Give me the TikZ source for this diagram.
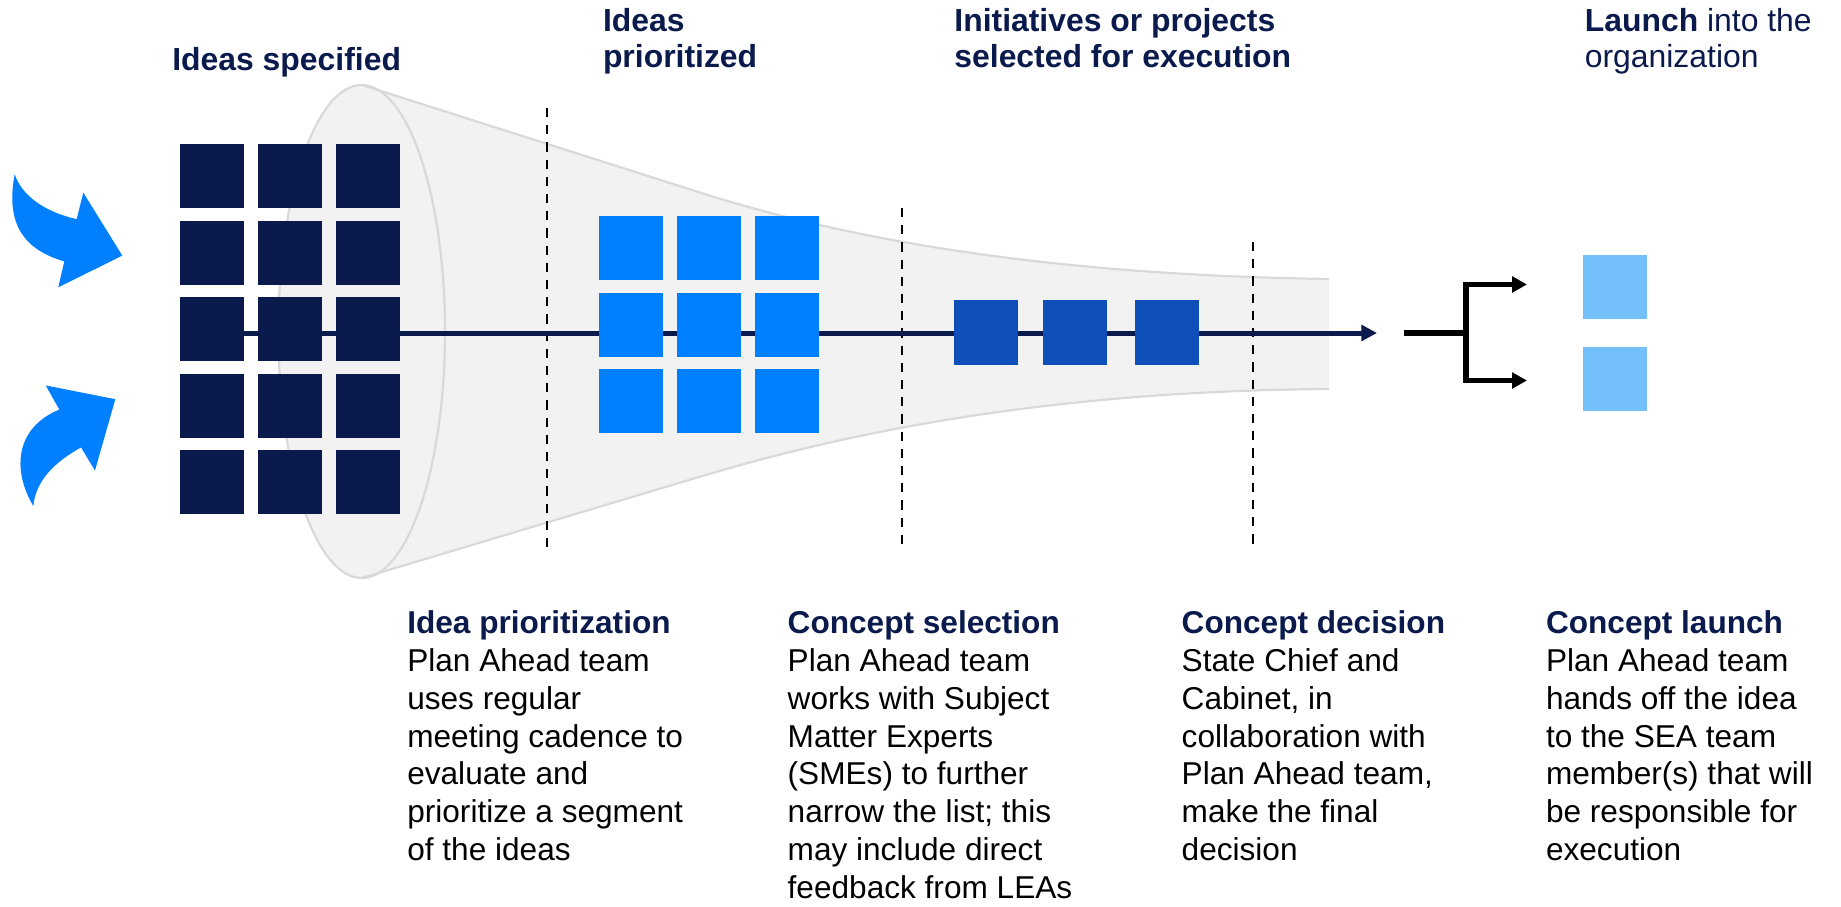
\documentclass[tikz,border=0pt]{standalone}
\usepackage{fontspec}
\setmainfont{Liberation Sans}
\usetikzlibrary{arrows.meta}
\definecolor{navy}{HTML}{0A1A4C}
\definecolor{brightblue}{HTML}{0080FF}
\definecolor{midblue}{HTML}{0F4FB9}
\definecolor{lightblue}{HTML}{73C0FA}
\definecolor{funnelfill}{HTML}{F2F2F2}
\definecolor{funneledge}{HTML}{D9D9D9}
\newcommand{\myBody}{\fontsize{15.8}{18.95}\selectfont}
\newcommand{\myHead}{\fontsize{15.95}{18}\selectfont}
\newcommand{\nodepth}[1]{\raisebox{0pt}[\height][0pt]{#1}}
\begin{document}
\begin{tikzpicture}[x=0.5pt,y=-0.5pt,
  sq/.style={minimum width=32pt,minimum height=32pt,inner sep=0pt,outer sep=0pt,draw=none,fill=#1},
  lbl/.style={anchor=base west,inner sep=0pt,outer sep=0pt},
  divider/.style={black,line width=1.15pt,dash pattern=on 4.6pt off 4pt},
  edgeline/.style={draw=funneledge,line width=1.1pt},
  flowline/.style={navy,line width=2.5pt,-{Triangle[length=7.8pt,width=7.8pt]}},
  forkline/.style={black,line width=3pt},
  forkarrow/.style={black,line width=2.9pt,-{Triangle[length=7.5pt,width=7.8pt]}},
  inflow/.style={fill=brightblue,draw=none}]
\useasboundingbox (0,0) rectangle (1841,906);

% funnel body
\fill[funnelfill] (362,85) -- (700,192.5) .. controls (850,240.2) and (1050,275) .. (1329,279)
  -- (1329,389) .. controls (1050,391) and (850,431.7) .. (700,476.7) -- (362,578) -- cycle;
\filldraw[fill=funnelfill,edgeline] (361.7,331.5) ellipse [x radius=83.3,y radius=246.5];
\draw[edgeline] (362,85) -- (700,192.5) .. controls (850,240.2) and (1050,275) .. (1329,279);
\draw[edgeline] (362,578) -- (700,476.7) .. controls (850,431.7) and (1050,391) .. (1329,389);

% dividers
\coordinate (dv1t) at (546.7,108);
\coordinate (dv1b) at (546.7,547);
\coordinate (dv2t) at (902,208);
\coordinate (dv2b) at (902,547);
\coordinate (dv3t) at (1253,242);
\coordinate (dv3b) at (1253,547);
\draw[divider] (dv1t) -- (dv1b);
\draw[divider] (dv2t) -- (dv2b);
\draw[divider] (dv3t) -- (dv3b);

% main flow line
\coordinate (mainstart) at (212,333);
\coordinate (mainend) at (1377,333);
\draw[flowline] (mainstart) -- (mainend);

% ideas specified
\foreach \c in {1,2,3} {
  \foreach \r in {1,...,5} {
    \node[sq=navy] (d\r\c) at ({212+78*(\c-1)},{176+76.5*(\r-1)}) {};
  }
}
% ideas prioritized
\foreach \c in {1,2,3} {
  \foreach \r in {1,2,3} {
    \node[sq=brightblue] (p\r\c) at ({631+78*(\c-1)},{248+76.5*(\r-1)}) {};
  }
}
% selected
\node[sq=midblue,minimum height=32.5pt] (s1) at (986,332.5) {};
\node[sq=midblue,minimum height=32.5pt] (s2) at (1075,332.5) {};
\node[sq=midblue,minimum height=32.5pt] (s3) at (1167,332.5) {};
% launched
\node[sq=lightblue] (l1) at (1615,287) {};
\node[sq=lightblue] (l2) at (1615,379) {};

% fork
\coordinate (fk0) at (1404,333);
\coordinate (fk1) at (1466,333);
\coordinate (fku) at (1527,284.5);
\coordinate (fkd) at (1527,380.5);
\draw[forkline] (fk0) -- (fk1);
\draw[forkarrow] (fk1) |- (fku);
\draw[forkarrow] (fk1) |- (fkd);

% incoming curved arrows
\fill[inflow] (14.7,174.3) .. controls (22,196) and (45,212) .. (76.7,219.1) -- (83.3,192.6)
  -- (122.3,255.6) -- (58.3,287.3) -- (64.3,261.4) .. controls (25,250) and (5,225) .. (14.7,174.3) -- cycle;
\fill[inflow] (33.3,505.9) .. controls (12,470) and (15,428) .. (59.3,409.5) -- (45.7,385.4)
  -- (115.3,399.2) -- (95,470.5) -- (81,447.4) .. controls (55,462) and (36,480) .. (33.3,505.9) -- cycle;

% top labels
\node[lbl,font=\myHead\bfseries,text=navy] (h1) at (172.3,70) {Ideas specified};
\node[lbl,font=\myHead,text=navy] (h2) at (603,31) {\begin{tabular}[t]{@{}l@{}}\bfseries Ideas\\\bfseries prioritized\end{tabular}};
\node[lbl,font=\myHead,text=navy] (h3) at (954.4,31) {\begin{tabular}[t]{@{}l@{}}\bfseries Initiatives or projects\\\bfseries selected for execution\end{tabular}};
\node[lbl,font=\myHead,text=navy] (h4) at (1584.8,31) {\begin{tabular}[t]{@{}l@{}}\textbf{Launch} into the\\organization\end{tabular}};

% bottom descriptions
\node[lbl,font=\myBody] (b1) at (407.3,633.3) {\nodepth{\begin{tabular}[t]{@{}l@{}}\textcolor{navy}{\bfseries Idea prioritization}\\Plan Ahead team\\uses regular\\meeting cadence to\\evaluate and\\prioritize a segment\\of the ideas\end{tabular}}};
\node[lbl,font=\myBody] (b2) at (787.7,633.3) {\nodepth{\begin{tabular}[t]{@{}l@{}}\textcolor{navy}{\bfseries Concept selection}\\Plan Ahead team\\works with Subject\\Matter Experts\\(SMEs) to further\\narrow the list; this\\may include direct\\feedback from LEAs\end{tabular}}};
\node[lbl,font=\myBody] (b3) at (1181.7,633.3) {\nodepth{\begin{tabular}[t]{@{}l@{}}\textcolor{navy}{\bfseries Concept decision}\\State Chief and\\Cabinet, in\\collaboration with\\Plan Ahead team,\\make the final\\decision\end{tabular}}};
\node[lbl,font=\myBody] (b4) at (1546,633.3) {\nodepth{\begin{tabular}[t]{@{}l@{}}\textcolor{navy}{\bfseries Concept launch}\\Plan Ahead team\\hands off the idea\\to the SEA team\\member(s) that will\\be responsible for\\execution\end{tabular}}};
\end{tikzpicture}
\end{document}
